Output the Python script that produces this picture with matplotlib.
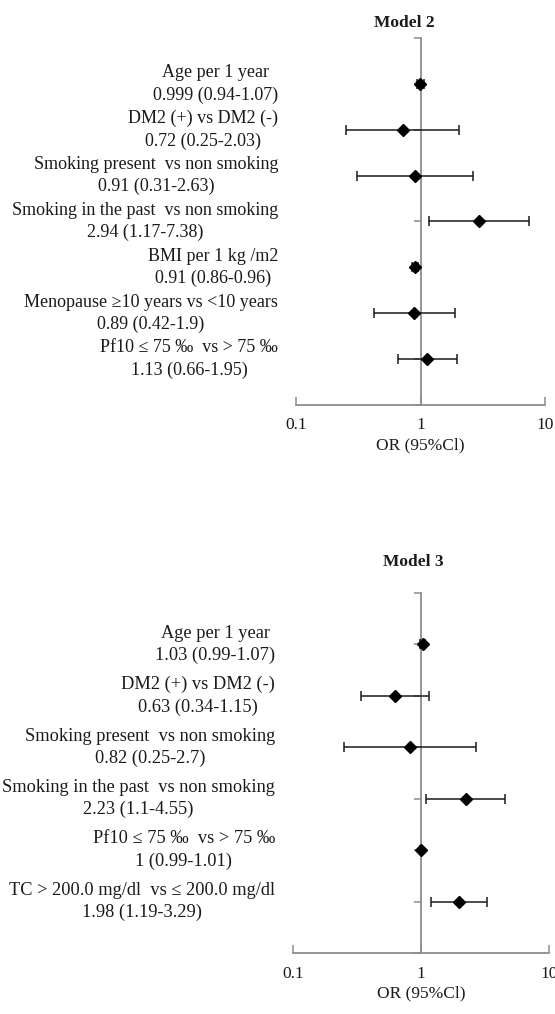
import matplotlib
matplotlib.use("Agg")
import matplotlib.pyplot as plt
from matplotlib.transforms import blended_transform_factory

plt.rcParams['font.family'] = ['Liberation Serif', 'DejaVu Serif']

# Model 2
m2_labels = ["Age per 1 year", "DM2 (+) vs DM2 (-)", "Smoking present  vs non smoking",
             "Smoking in the past  vs non smoking", "BMI per 1 kg /m2",
             "Menopause \u226510 years vs <10 years", "Pf10 \u2264 75 \u2030  vs > 75 \u2030"]
m2_or = [0.999, 0.72, 0.91, 2.94, 0.91, 0.89, 1.13]
m2_lo = [0.94, 0.25, 0.31, 1.17, 0.86, 0.42, 0.66]
m2_hi = [1.07, 2.03, 2.63, 7.38, 0.96, 1.9, 1.95]

# Model 3
m3_labels = ["Age per 1 year", "DM2 (+) vs DM2 (-)", "Smoking present  vs non smoking",
             "Smoking in the past  vs non smoking", "Pf10 \u2264 75 \u2030  vs > 75 \u2030",
             "TC > 200.0 mg/dl  vs \u2264 200.0 mg/dl"]
m3_or = [1.03, 0.63, 0.82, 2.23, 1, 1.98]
m3_lo = [0.99, 0.34, 0.25, 1.1, 0.99, 1.19]
m3_hi = [1.07, 1.15, 2.7, 4.55, 1.01, 3.29]

ticks = [0.1, 1, 10]
tick_labels = ["0.1", "1", "10"]

W, H = 555, 1014
fig = plt.figure(figsize=(W / 100, H / 100), dpi=100)
grey = '#8c8c8c'


def fmt(v):
    return ('%g' % v)


def panel(rect, title, title_xy, labels, ors, los, his, label_x, fs):
    ax = fig.add_axes(rect)
    n = len(labels)
    ys = list(range(n, 0, -1))
    xerr = [[o - l for o, l in zip(ors, los)], [h - o for o, h in zip(ors, his)]]
    ax.errorbar(ors, ys, xerr=xerr, fmt='D', color='black', ms=6.3,
                ecolor='#1a1a1a', elinewidth=1.1, capsize=3.5, capthick=1.1, zorder=3)
    ax.set_xscale('log')
    ax.set_xlim(0.1, 10)
    ax.set_ylim(0, n + 1)
    for s in ['top', 'right']:
        ax.spines[s].set_visible(False)
    ax.spines['left'].set_position(('data', 1))
    ax.spines['left'].set_color(grey)
    ax.spines['bottom'].set_color(grey)
    ax.spines['left'].set_linewidth(1.3)
    ax.spines['bottom'].set_linewidth(1.3)
    ax.set_yticks(range(0, n + 2))
    ax.set_yticklabels([])
    ax.tick_params(axis='y', direction='out', length=5, width=1.1, color=grey)
    ax.set_xticks(ticks)
    ax.set_xticklabels(tick_labels)
    ax.minorticks_off()
    ax.tick_params(axis='x', direction='in', length=6, width=1.1, color=grey,
                   labelsize=12.5, pad=9, labelcolor='#1a1a1a')
    ax.set_xlabel("OR (95%Cl)", fontsize=12.5, labelpad=3, color='#1a1a1a')
    ax.patch.set_alpha(0)
    tr = blended_transform_factory(fig.transFigure, ax.transData)
    for lab, o, l, h, y in zip(labels, ors, los, his, ys):
        txt = lab + "\n" + "%s (%s-%s)" % (fmt(o), fmt(l), fmt(h))
        ax.text(label_x, y, txt, transform=tr, ha='right', va='center',
                multialignment='center', fontsize=fs, linespacing=1.38,
                color='#1a1a1a', clip_on=False)
    fig.text(title_xy[0], title_xy[1], title, ha='center', va='center',
             fontsize=12.5, fontweight='bold', color='#1a1a1a')
    return ax


panel([296 / W, 1 - 405 / H, 249 / W, 367 / H], "Model 2", (404 / W, 1 - 23 / H),
      m2_labels, m2_or, m2_lo, m2_hi, 278 / W, 13)
panel([293 / W, 1 - 953 / H, 256 / W, 360 / H], "Model 3", (413 / W, 1 - 562 / H),
      m3_labels, m3_or, m3_lo, m3_hi, 275 / W, 13.2)

fig.savefig("out.png", dpi=100, facecolor='white')
